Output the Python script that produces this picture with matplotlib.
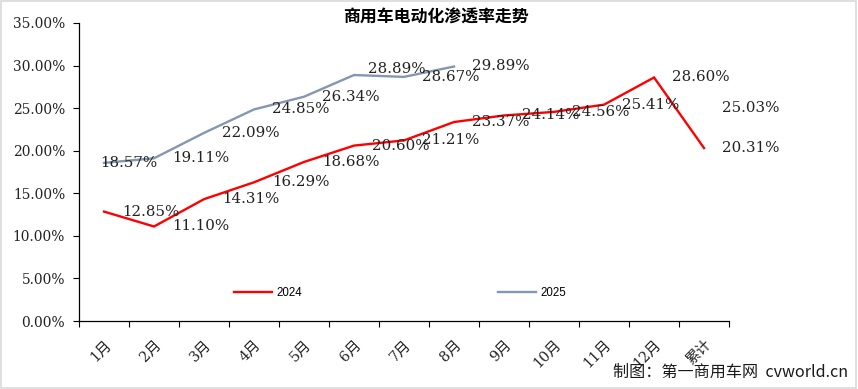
import numpy as np
import matplotlib
matplotlib.use("Agg")
import matplotlib.pyplot as plt
from matplotlib.patches import Rectangle
from matplotlib.ticker import FixedLocator, FuncFormatter

categories = ["1月", "2月", "3月", "4月", "5月", "6月", "7月", "8月", "9月", "10月", "11月", "12月", "累计"]
series_2024 = [12.85, 11.10, 14.31, 16.29, 18.68, 20.60, 21.21, 23.37, 24.14, 24.56, 25.41, 28.60, 20.31]
series_2025 = [18.57, 19.11, 22.09, 24.85, 26.34, 28.89, 28.67, 29.89, np.nan, np.nan, np.nan, np.nan, 25.03]
y_ticks = [0, 5, 10, 15, 20, 25, 30, 35]
title = "商用车电动化渗透率走势"
credit = "制图：第一商用车网  cvworld.cn"

# label offsets in points (style only)
default_offset = (13, 0)
special_offsets = {("2025", 0): (-3, 0), ("2025", 5): (10, 4)}

DPI = 100
fig = plt.figure(figsize=(8.58, 3.89), dpi=DPI)
ax = fig.add_axes([0.0921, 0.1748, 0.7576, 0.7661])

x = np.arange(len(categories))
c24 = "#FF0000"
c25 = "#8497B0"
ax.plot(x, series_2024, color=c24, lw=1.7, label="2024", solid_joinstyle="miter")
ax.plot(x, series_2025, color=c25, lw=1.7, label="2025", solid_joinstyle="miter")

label_font = dict(family="DejaVu Serif", size=10.8, color="#222222")
for name, vals in (("2024", series_2024), ("2025", series_2025)):
    for i, v in enumerate(vals):
        if np.isnan(v):
            continue
        off = special_offsets.get((name, i), default_offset)
        ax.annotate(f"{v:.2f}%", (x[i], v), xytext=off, textcoords="offset points",
                    ha="left", va="center", **label_font)

ax.set_xlim(-0.5, len(categories) - 0.5)
ax.set_ylim(0, 35)
ax.set_yticks(y_ticks)
ax.yaxis.set_major_formatter(FuncFormatter(lambda v, p: f"{v:.2f}%"))
for lab in ax.get_yticklabels():
    lab.set_fontfamily("DejaVu Serif")
    lab.set_fontsize(9.9)
    lab.set_color("#222222")
ax.tick_params(axis="y", direction="out", length=4, width=0.8, pad=6)

ax.set_xticks(x)
ax.set_xticklabels(categories, rotation=45, ha="right", rotation_mode="anchor",
                   fontsize=10.4, family=["DejaVu Serif", "Noto Sans CJK SC"], color="#222222")
ax.tick_params(axis="x", which="major", length=0, pad=12)
ax.xaxis.set_minor_locator(FixedLocator(np.arange(-0.5, len(categories), 1.0)))
ax.tick_params(axis="x", which="minor", direction="out", length=4, width=0.8)

for s in ("top", "right"):
    ax.spines[s].set_visible(False)
for s in ("left", "bottom"):
    ax.spines[s].set_linewidth(0.9)
    ax.spines[s].set_color("black")

leg = ax.legend(loc="center left", bbox_to_anchor=(0.239, 0.094), ncol=2, frameon=False,
                fontsize=8.3, handlelength=3.3, handletextpad=0.35, columnspacing=17.0,
                borderpad=0, borderaxespad=0)
for t in leg.get_texts():
    t.set_fontfamily("Liberation Sans")

fig.text(436 / 858, 1 - 18 / 389, title, ha="center", va="center", fontsize=12.2,
         fontweight="bold", family=["Noto Sans CJK SC"])
fig.text(848 / 858, 1 - 372 / 389, credit, ha="right", va="center", fontsize=11.6,
         family=["Noto Sans CJK SC"], color="#1a1a1a")

fig.add_artist(Rectangle((0.001, 0.002), 0.997, 0.995, transform=fig.transFigure,
                         fill=False, edgecolor="#d9d9d9", lw=1.2))

fig.savefig("out.png", dpi=DPI)
